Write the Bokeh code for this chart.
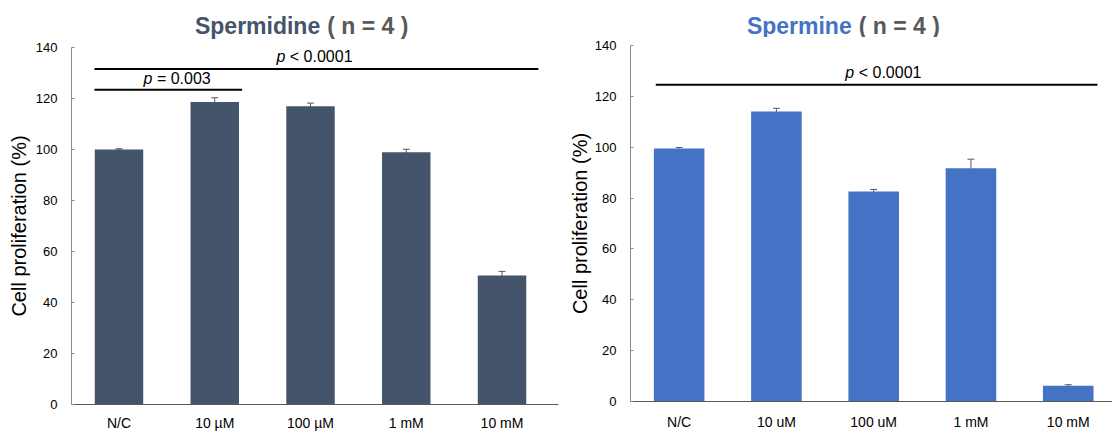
from bokeh.plotting import figure
from bokeh.layouts import row, column
from bokeh.models import Range1d, FixedTicker, Whisker, ColumnDataSource
from bokeh.core.properties import value
from bokeh.embed import file_html
from bokeh.resources import INLINE

categories = ["N/C", "10 µM", "100 µM", "1 mM", "10 mM"]
categories_r = ["N/C", "10 uM", "100 uM", "1 mM", "10 mM"]
spermidine = [100.0, 118.6, 117.0, 98.9, 50.6]
spermidine_err = [0.3, 1.7, 1.2, 1.2, 1.6]
spermine = [99.5, 114.0, 82.6, 91.7, 6.2]
spermine_err = [0.4, 1.3, 0.8, 3.6, 0.4]
y_ticks = [0, 20, 40, 60, 80, 100, 120, 140]

FONT = "Liberation Sans"


def make_panel(cats, vals, errs, color, width, height, bl, br, bt, bb,
               xr, yr, bar_w, ylab_standoff, tick_standoff, xlab_standoff):
    p = figure(width=width, height=height, output_backend="svg",
               toolbar_location=None, x_range=xr, y_range=Range1d(*yr),
               min_border_left=bl, min_border_right=br, min_border_top=bt,
               min_border_bottom=bb)
    p.outline_line_color = None
    p.xgrid.visible = False
    p.ygrid.visible = False
    p.background_fill_color = "white"
    p.border_fill_color = "white"
    xs = list(range(len(cats)))
    src = ColumnDataSource(dict(x=xs, top=vals,
                                upper=[v + e for v, e in zip(vals, errs)],
                                lower=[v - e for v, e in zip(vals, errs)]))
    p.vbar(x="x", top="top", bottom=0, width=bar_w, source=src,
           fill_color=color, line_color=None)
    w = Whisker(base="x", upper="upper", lower="lower", source=src,
                line_color="#595959", line_width=1)
    w.upper_head.size = 7
    w.lower_head.size = 7
    w.upper_head.line_color = "#595959"
    w.lower_head.line_color = "#595959"
    p.add_layout(w)

    # axes
    p.xaxis.ticker = FixedTicker(ticks=xs)
    p.xaxis.major_label_overrides = {i: c for i, c in enumerate(cats)}
    p.xaxis.major_tick_out = 0
    p.xaxis.major_tick_in = 0
    p.xaxis.minor_tick_out = 0
    p.xaxis.minor_tick_in = 0
    p.xaxis.axis_line_color = "#595959"
    p.xaxis.major_label_text_font = FONT
    p.xaxis.major_label_text_font_size = "14px"
    p.xaxis.major_label_text_color = "#000000"
    p.xaxis.major_label_standoff = xlab_standoff

    p.yaxis.ticker = FixedTicker(ticks=y_ticks)
    p.yaxis.bounds = (0, 140)
    p.yaxis.major_tick_in = 3
    p.yaxis.major_tick_out = 0
    p.yaxis.minor_tick_in = 0
    p.yaxis.minor_tick_out = 0
    p.yaxis.axis_line_color = "#8c8c8c"
    p.yaxis.major_tick_line_color = "#8c8c8c"
    p.yaxis.major_label_text_font = FONT
    p.yaxis.major_label_text_font_size = "13px"
    p.yaxis.major_label_text_color = "#000000"
    p.yaxis.major_label_standoff = tick_standoff
    p.yaxis.axis_label = "Cell proliferation (%)"
    p.yaxis.axis_label_text_font = FONT
    p.yaxis.axis_label_text_font_style = "normal"
    p.yaxis.axis_label_text_font_size = "20px"
    p.yaxis.axis_label_text_color = "#000000"
    p.yaxis.axis_label_standoff = ylab_standoff
    return p


def make_title(name, col, xr, width, height, bl, br, xa, ya):
    t = figure(width=width, height=height, output_backend="svg",
               toolbar_location=None, x_range=xr, y_range=Range1d(0, height),
               x_axis_location=None, y_axis_location=None,
               min_border_left=bl, min_border_right=br, min_border_top=0,
               min_border_bottom=0)
    t.outline_line_color = None
    t.xgrid.visible = False
    t.ygrid.visible = False
    t.text(x=[xa], y=[ya], text=[name], text_font=value(FONT),
           text_font_style="bold", text_font_size="23px", x_offset=-3.5,
           text_align="right", text_baseline="alphabetic", text_color=col)
    t.text(x=[xa], y=[ya], text=["( n = 4 )"], text_font=value(FONT),
           text_font_style="bold", text_font_size="23px", x_offset=3.5,
           text_align="left", text_baseline="alphabetic", text_color="#595959")
    return t


xr_left = Range1d(-0.496, 4.59)
xr_right = Range1d(-0.5, 4.455)

left = make_panel(categories, spermidine, spermidine_err, "#44546A",
                  width=565, height=394, bl=71, br=7, bt=8, bb=29,
                  xr=xr_left, yr=(0, 140), bar_w=0.506,
                  ylab_standoff=3, tick_standoff=14, xlab_standoff=10)
right = make_panel(categories_r, spermine, spermine_err, "#4472C4",
                   width=547, height=396, bl=65, br=0, bt=8, bb=32,
                   xr=xr_right, yr=(0, 140), bar_w=0.52,
                   ylab_standoff=1, tick_standoff=14, xlab_standoff=12)

title_left = make_title("Spermidine", "#44546A", xr_left, 565, 39, 71, 7, 2.138, 14)
title_right = make_title("Spermine", "#4472C4", xr_right, 547, 37, 65, 0, 1.81, 12)

# significance lines and labels
left.line(x=[-0.256, 4.38], y=[131.6, 131.6], line_color="black", line_width=2)
left.line(x=[-0.256, 1.286], y=[123.4, 123.4], line_color="black", line_width=2)
right.line(x=[-0.24, 4.30], y=[124.6, 124.6], line_color="black", line_width=2)

for fig, xa, ya, rest in [(left, 1.737, 136.4, "< 0.0001"),
                          (left, 0.349, 127.9, "= 0.003"),
                          (right, 1.80, 129.2, "< 0.0001")]:
    fig.text(x=[xa], y=[ya], text=["p"], text_font=value(FONT),
             text_font_style="italic", text_font_size="16px",
             text_align="right", text_baseline="alphabetic", text_color="black")
    fig.text(x=[xa], y=[ya], text=[rest], text_font=value(FONT),
             text_font_size="16px", text_align="left", x_offset=4.5,
             text_baseline="alphabetic", text_color="black")

layout = row(column(title_left, left), column(title_right, right))
open("out.html", "w").write(file_html(layout, INLINE))
